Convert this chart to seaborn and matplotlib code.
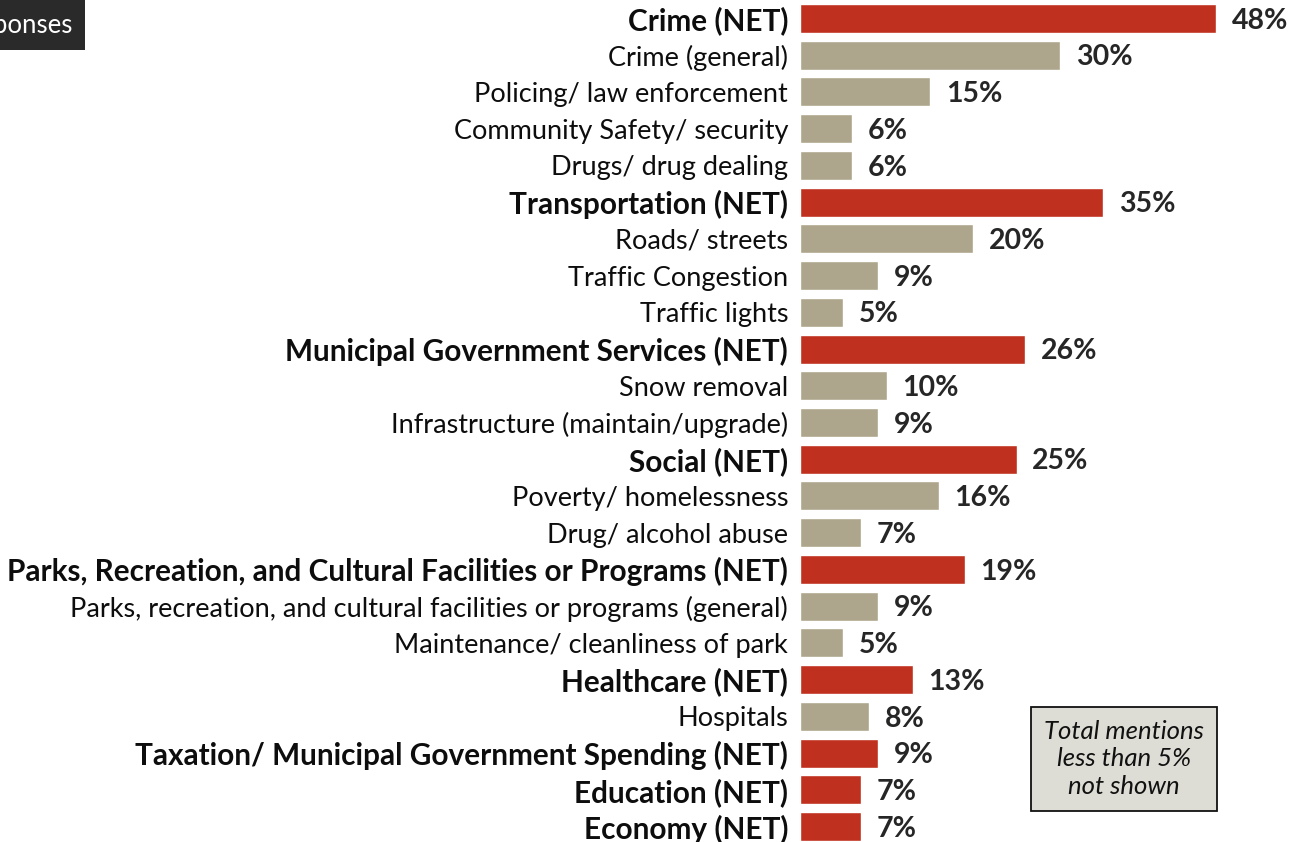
import pandas as pd
import seaborn as sns
import matplotlib.pyplot as plt

# === Data ===
labels = [
    "Crime (NET)", "Crime (general)", "Policing/ law enforcement",
    "Community Safety/ security", "Drugs/ drug dealing",
    "Transportation (NET)", "Roads/ streets", "Traffic Congestion", "Traffic lights",
    "Municipal Government Services (NET)", "Snow removal",
    "Infrastructure (maintain/upgrade)",
    "Social (NET)", "Poverty/ homelessness", "Drug/ alcohol abuse",
    "Parks, Recreation, and Cultural Facilities or Programs (NET)",
    "Parks, recreation, and cultural facilities or programs (general)",
    "Maintenance/ cleanliness of park",
    "Healthcare (NET)", "Hospitals",
    "Taxation/ Municipal Government Spending (NET)",
    "Education (NET)", "Economy (NET)",
]
values = [48, 30, 15, 6, 6, 35, 20, 9, 5, 26, 10, 9, 25, 16, 7, 19, 9, 5, 13, 8, 9, 7, 7]
kinds = ["net" if l.endswith("(NET)") else "sub" for l in labels]

df = pd.DataFrame({"label": labels, "value": values, "kind": kinds})

sns.set_style("white")
plt.rcParams["font.family"] = ["Lato", "DejaVu Sans"]

fig = plt.figure(figsize=(12.91, 8.42), dpi=100)
ax = fig.add_axes([800 / 1291, -0.0034, 491 / 1291, 1.0033])

sns.barplot(data=df, x="value", y="label", hue="kind", orient="h",
            palette={"net": "#C0301E", "sub": "#ADA68C"}, dodge=False,
            saturation=1, width=0.79, legend=False, ax=ax)

ax.set_xlim(0, 491 / 8.67)
ax.set_ylim(len(labels) - 0.5, -0.5)
ax.set_xlabel("")
ax.set_ylabel("")
ax.set_xticks([])
for s in ax.spines.values():
    s.set_visible(False)

ax.tick_params(axis="y", length=0, pad=8.5)
ax.set_yticks(range(len(labels)))
ax.set_yticklabels(labels, fontsize=19.5, color="#0d0d0d")
for t, k in zip(ax.get_yticklabels(), kinds):
    if k == "net":
        t.set_fontweight("bold")
        t.set_fontsize(21.4)

# value labels
for i, v in enumerate(values):
    ax.text(v + 1.8, i + 0.06, f"{v}%", va="center", ha="left",
            fontsize=20.5, fontweight="bold", color="#262626")

# note box
fig.text(1124 / 1291, 1 - 759 / 842, "Total mentions\nless than 5%\nnot shown",
         ha="center", va="center", fontsize=18.5, style="italic", color="#111111",
         linespacing=1.25,
         bbox=dict(boxstyle="square,pad=0.5", facecolor="#DDDDD5",
                   edgecolor="#111111", linewidth=1.3))

# cut-off tag top left
fig.text(72 / 1291, 1 - 25 / 842, "Multiple responses", ha="right", va="center",
         fontsize=18.5, color="white",
         bbox=dict(boxstyle="square,pad=0.5", facecolor="#2A2A2A",
                   edgecolor="none"))

plt.savefig("out.png", dpi=100)
